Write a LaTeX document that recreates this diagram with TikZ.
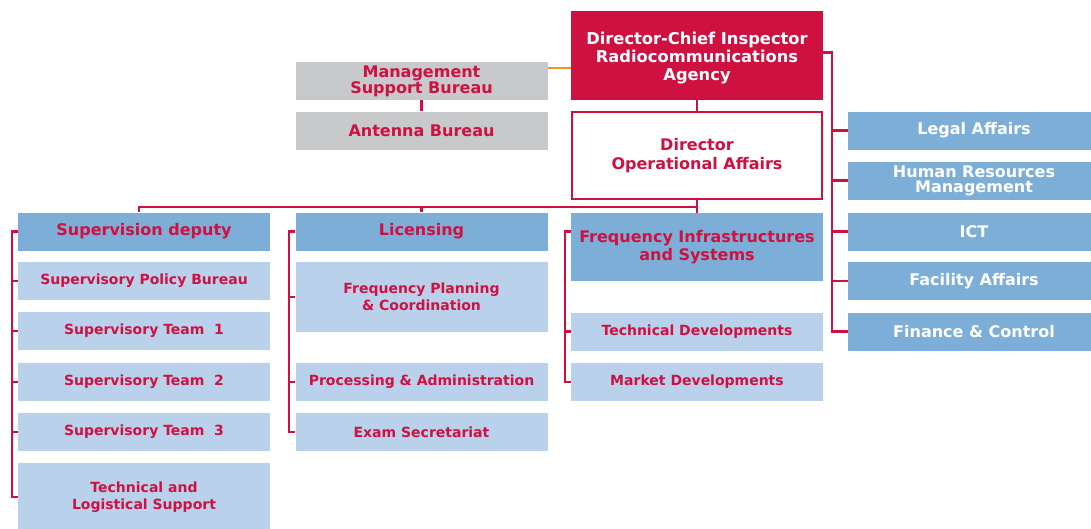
\documentclass[tikz,border=0pt]{standalone}
\usepackage{fontspec}
\setmainfont{DejaVu Sans}
\usetikzlibrary{positioning, calc}
\definecolor{agencyred}{RGB}{206,17,65}
\definecolor{bureaugray}{RGB}{200,201,202}
\definecolor{deptblue}{RGB}{124,174,216}
\definecolor{teamblue}{RGB}{186,209,235}
\definecolor{staffamber}{RGB}{243,146,50}
\tikzset{
  unit/.style={rectangle, minimum width=252pt, minimum height=38pt, inner sep=2pt, align=center,
    text=agencyred, font=\fontsize{14}{17}\selectfont\bfseries},
  chief/.style={unit, fill=agencyred, text=white, minimum height=89pt,
    font=\fontsize{16.3}{18}\selectfont\bfseries},
  director/.style={unit, draw=agencyred, line width=2.2pt, fill=white, minimum width=250pt,
    minimum height=87pt, font=\fontsize{16}{19}\selectfont\bfseries},
  bureau/.style={unit, fill=bureaugray, font=\fontsize{16}{16}\selectfont\bfseries},
  dept/.style={unit, fill=deptblue, font=\fontsize{16}{18}\selectfont\bfseries},
  staff/.style={unit, fill=deptblue, text=white, font=\fontsize{16}{15}\selectfont\bfseries},
  team/.style={unit, fill=teamblue},
  link/.style={draw=agencyred, line width=2.2pt},
  advice/.style={draw=staffamber, line width=2.2pt},
}
\begin{document}
\begin{tikzpicture}[x=1pt, y=-1pt]
  \useasboundingbox (0,0) rectangle (1091,528);

  % top of the agency
  \node[chief] (chief) at (697,55.5) {\rule{0pt}{17pt}Director-Chief Inspector\\Radiocommunications\\Agency};
  \node[director] (dirop) at (697,155.5) {Director\\Operational Affairs};
  \node[bureau] (msb) at (421.5,81) {Management\\Support Bureau};
  \node[bureau] (antenna) at (421.5,130.5) {Antenna Bureau};

  % staff departments
  \node[staff] (legal) at (974,130.5) {Legal Affairs};
  \node[staff] (hrm) at (974,180.5) {Human Resources\\Management};
  \node[staff] (ict) at (974,231.5) {ICT};
  \node[staff] (facility) at (974,281) {Facility Affairs};
  \node[staff] (finance) at (974,331.5) {Finance \& Control};

  % supervision
  \node[dept] (supdep) at (144,231.5) {Supervision deputy};
  \node[team] (spb) at (144,281) {Supervisory Policy Bureau};
  \node[team] (st1) at (144,331) {Supervisory Team\ \ 1};
  \node[team] (st2) at (144,382) {Supervisory Team\ \ 2};
  \node[team] (st3) at (144,432) {Supervisory Team\ \ 3};
  \node[team, minimum height=68pt] (tls) at (144,497) {Technical and\\Logistical Support};

  % licensing
  \node[dept] (lic) at (421.5,231.5) {Licensing};
  \node[team, minimum height=70pt] (fpc) at (421.5,297) {Frequency Planning\\\& Coordination};
  \node[team] (proc) at (421.5,382) {Processing \& Administration};
  \node[team] (exam) at (421.5,432) {Exam Secretariat};

  % frequency infrastructures
  \node[dept, minimum height=68pt] (fis) at (697,247) {Frequency Infrastructures\\and Systems};
  \node[team] (techdev) at (697,331.5) {Technical Developments};
  \node[team] (market) at (697,382) {Market Developments};

  % connectors
  \draw[advice] ([yshift=13pt]msb.east) -- ([yshift=13pt]msb.east -| chief.west);
  \draw[link] (msb) -- (antenna);
  \draw[link] (chief) -- (dirop);
  \draw[link] (dirop.south) -- ++(0,7) coordinate (bus);
  \draw[link] (bus) -| ([xshift=-5pt]supdep.north);
  \draw[link] (bus) -| (lic.north);
  \draw[link] (bus) -- (fis.north);
  \foreach \n in {legal, hrm, ict, facility, finance}
    \draw[link] ([yshift=3pt]chief.east) -- ++(9,0) |- (\n.west);
  \foreach \n in {spb, st1, st2, st3, tls}
    \draw[link] (supdep.west) -- ++(-6,0) |- (\n.west);
  \foreach \n in {fpc, proc, exam}
    \draw[link] (lic.west) -- ++(-6,0) |- (\n.west);
  \foreach \n in {techdev, market}
    \draw[link] ([yshift=15.5pt]fis.west) -- ++(-6,0) |- (\n.west);
\end{tikzpicture}
\end{document}
